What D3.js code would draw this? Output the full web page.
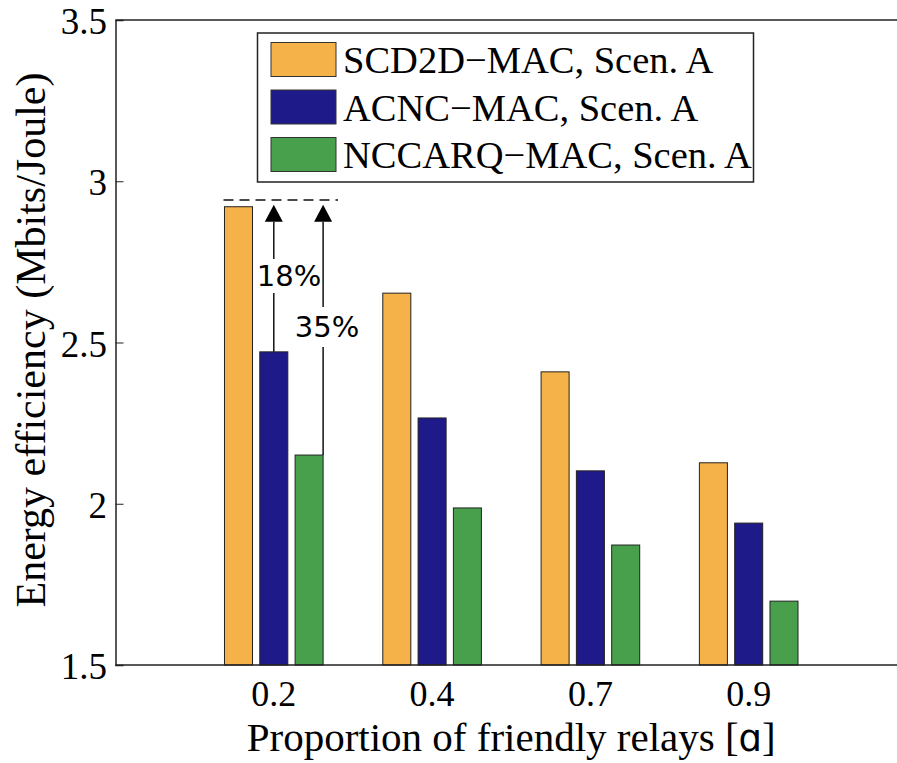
<!DOCTYPE html>
<html>
<head>
<meta charset="utf-8">
<script src="https://cdn.jsdelivr.net/npm/d3@7"></script>
<style>
  html, body { margin: 0; padding: 0; background: #fff; }
  svg { display: block; }
</style>
</head>
<body>
<svg id="chart" width="897" height="763"></svg>
<script>
// Energy efficiency per proportion of friendly relays
const categories = ["0.2", "0.4", "0.7", "0.9"];
const seriesNames = ["SCD2D\u2212MAC, Scen. A", "ACNC\u2212MAC, Scen. A", "NCCARQ\u2212MAC, Scen. A"];
const scd2dValues = [2.921, 2.653, 2.409, 2.127];
const acncValues = [2.471, 2.266, 2.102, 1.940];
const nccarqValues = [2.151, 1.987, 1.872, 1.698];
const seriesColors = ["#f5b248", "#1e1a89", "#48a04c"];
const yTicks = [1.5, 2, 2.5, 3, 3.5];
const gainLabels = ["18%", "35%"];
const dashedLevel = 2.942;

const series = [scd2dValues, acncValues, nccarqValues];

const svg = d3.select("#chart");
const serif = "'Liberation Serif', 'Times New Roman', serif";

// Category slots 1..4 on a 0..5 axis (plot runs past the right edge)
const x = d3.scaleLinear().domain([0, 5]).range([115.5, 907]);
const y = d3.scaleLinear().domain([1.5, 3.5]).range([665, 20]);

const barOffset = 0.223;
const barWidth = 0.177;

// Bars
series.forEach((vals, si) => {
  svg.append("g").selectAll("rect")
    .data(vals)
    .join("rect")
    .attr("x", (d, i) => x(i + 1 + (si - 1) * barOffset - barWidth / 2))
    .attr("width", x(barWidth) - x(0))
    .attr("y", d => y(d))
    .attr("height", d => y(1.5) - y(d))
    .attr("fill", seriesColors[si])
    .attr("stroke", "#222")
    .attr("stroke-width", 1);
});

// Axes
const yAxis = d3.axisRight(y).tickValues(yTicks).tickSize(8).tickFormat("");
const gy = svg.append("g").attr("transform", `translate(${x(0)},0)`).call(yAxis);
gy.select(".domain").attr("stroke", "#222").attr("stroke-width", 1.5);
gy.selectAll(".tick line").attr("stroke", "#222").attr("stroke-width", 1);

svg.append("line")
  .attr("x1", x(0)).attr("x2", x(5))
  .attr("y1", y(1.5)).attr("y2", y(1.5))
  .attr("stroke", "#222").attr("stroke-width", 1.5);
svg.append("line")
  .attr("x1", x(0)).attr("x2", x(5))
  .attr("y1", y(3.5)).attr("y2", y(3.5))
  .attr("stroke", "#222").attr("stroke-width", 1.5);

// Tick labels
svg.append("g").selectAll("text")
  .data(yTicks)
  .join("text")
  .attr("x", 107)
  .attr("y", d => y(d) + 14)
  .attr("text-anchor", "end")
  .attr("font-family", serif)
  .attr("font-size", 37)
  .text(d => d3.format("")(d));

svg.append("g").selectAll("text")
  .data(categories)
  .join("text")
  .attr("x", (d, i) => x(i + 1))
  .attr("y", 706)
  .attr("text-anchor", "middle")
  .attr("font-family", serif)
  .attr("font-size", 36)
  .text(d => d);

// Axis titles
const xt = svg.append("text")
  .attr("x", (x(0) + x(5)) / 2)
  .attr("y", 751)
  .attr("text-anchor", "middle")
  .attr("font-family", serif)
  .attr("font-size", 41);
xt.append("tspan").text("Proportion of friendly relays [");
xt.append("tspan").attr("font-family", "'DejaVu Sans', sans-serif").attr("font-size", 37).text("\u0251");
xt.append("tspan").text("]");

svg.append("text")
  .attr("transform", "translate(45,340) rotate(-90)")
  .attr("text-anchor", "middle")
  .attr("font-family", serif)
  .attr("font-size", 42)
  .text("Energy efficiency (Mbits/Joule)");

// Legend
const legend = svg.append("g");
legend.append("rect")
  .attr("x", 257.5).attr("y", 33)
  .attr("width", 496).attr("height", 149)
  .attr("fill", "#fff").attr("stroke", "#222").attr("stroke-width", 1.5);
seriesNames.forEach((name, i) => {
  const cy = 59.5 + i * 47.5;
  legend.append("rect")
    .attr("x", 271).attr("y", cy - 17)
    .attr("width", 65).attr("height", 34)
    .attr("fill", seriesColors[i]).attr("stroke", "#333").attr("stroke-width", 1);
  legend.append("text")
    .attr("x", 343).attr("y", cy + 13.5)
    .attr("font-family", serif)
    .attr("font-size", 38.5)
    .text(name);
});

// Gain annotation: dashed reference at the SCD2D level, arrows from the other bars
svg.append("line")
  .attr("x1", x(1 - barOffset - barWidth / 2) - 1)
  .attr("x2", 338)
  .attr("y1", y(dashedLevel)).attr("y2", y(dashedLevel))
  .attr("stroke", "#111").attr("stroke-width", 1.5)
  .attr("stroke-dasharray", "10,6");

const arrows = [
  { xPos: x(1), from: acncValues[0], gapTop: 259, gapBottom: 293, label: gainLabels[0], lx: 289, ly: 286 },
  { xPos: x(1 + barOffset + barWidth / 2), from: nccarqValues[0], gapTop: 307, gapBottom: 347, label: gainLabels[1], lx: 327, ly: 337 }
];
const tipY = y(scd2dValues[0]) - 2;
arrows.forEach(a => {
  const headH = 17, headW = 18;
  svg.append("line")
    .attr("x1", a.xPos).attr("x2", a.xPos)
    .attr("y1", tipY + headH).attr("y2", a.gapTop)
    .attr("stroke", "#111").attr("stroke-width", 1.5);
  svg.append("line")
    .attr("x1", a.xPos).attr("x2", a.xPos)
    .attr("y1", a.gapBottom).attr("y2", y(a.from))
    .attr("stroke", "#111").attr("stroke-width", 1.5);
  svg.append("path")
    .attr("d", `M${a.xPos},${tipY} L${a.xPos - headW / 2},${tipY + headH} L${a.xPos + headW / 2},${tipY + headH} Z`)
    .attr("fill", "#000");
  svg.append("text")
    .attr("x", a.lx).attr("y", a.ly)
    .attr("text-anchor", "middle")
    .attr("font-family", "'DejaVu Sans', Verdana, sans-serif")
    .attr("font-size", 29)
    .text(a.label);
});
</script>
</body>
</html>
